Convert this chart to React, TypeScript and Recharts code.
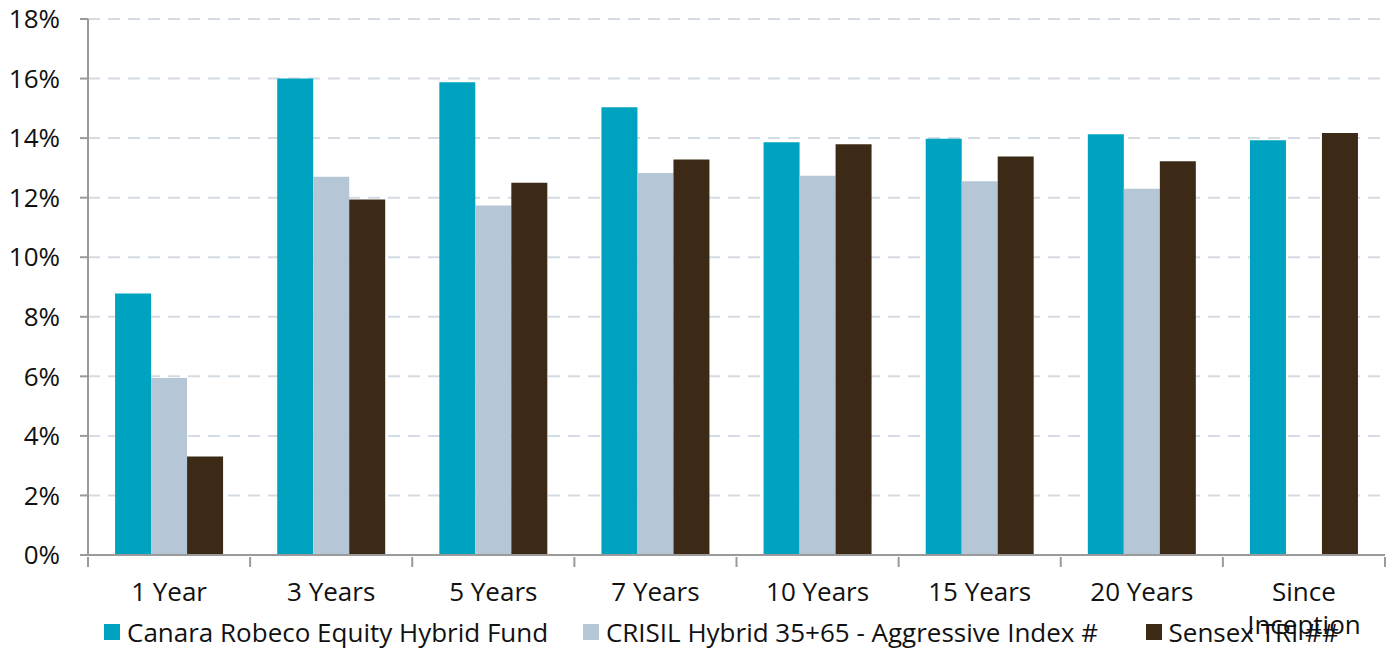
import React from 'react';
import { BarChart, Bar, XAxis, YAxis, CartesianGrid, Legend } from 'recharts';

const categories = ['1 Year', '3 Years', '5 Years', '7 Years', '10 Years', '15 Years', '20 Years', 'Since Inception'];
const fundReturns = [8.78, 16.0, 15.88, 15.04, 13.86, 13.98, 14.13, 13.93];
const crisilReturns: (number | null)[] = [5.94, 12.7, 11.74, 12.83, 12.74, 12.55, 12.3, null];
const sensexReturns = [3.31, 11.94, 12.5, 13.28, 13.79, 13.38, 13.22, 14.17];
const yTicks = [0, 2, 4, 6, 8, 10, 12, 14, 16, 18];

const seriesNames = {
    fund: 'Canara Robeco Equity Hybrid Fund',
    crisil: 'CRISIL Hybrid 35+65 - Aggressive Index #',
    sensex: 'Sensex TRI ##',
};

const colors = { fund: '#00A3BF', crisil: '#B5C7D6', sensex: '#3C2A17' };

const data = categories.map((name, i) => ({
    name,
    fund: fundReturns[i],
    crisil: crisilReturns[i],
    sensex: sensexReturns[i],
}));

const FONT = '"Open Sans", sans-serif';
const WIDTH = 1391;
const HEIGHT = 651;
const Y_AXIS_W = 88;
const RIGHT = 6;
const HALF_BAND = (WIDTH - Y_AXIS_W - RIGHT) / categories.length / 2;

const CategoryTick = (props: any) => {
    const { x, y, payload, index } = props;
    const words: string[] = payload.value === 'Since Inception' ? ['Since', 'Inception'] : [payload.value];
    const last = index === categories.length - 1;
    return (
        <g>
            <line x1={x - HALF_BAND} x2={x - HALF_BAND} y1={y} y2={y + 10} stroke="#9a9a9a" strokeWidth={2} />
            {last && <line x1={x + HALF_BAND} x2={x + HALF_BAND} y1={y} y2={y + 10} stroke="#9a9a9a" strokeWidth={2} />}
            <text x={x} y={y + 44} textAnchor="middle" fill="#111" fontSize={26} fontFamily={FONT}>
                {words.map((w, i) => (
                    <tspan key={w} x={x} dy={i === 0 ? 0 : 33}>{w}</tspan>
                ))}
            </text>
        </g>
    );
};

// legend item widths taken from the reference's spacing
const legendItems = [
    { key: 'fund', label: seriesNames.fund, color: colors.fund, width: 480 },
    { key: 'crisil', label: seriesNames.crisil, color: colors.crisil, width: 564 },
    { key: 'sensex', label: seriesNames.sensex, color: colors.sensex, width: 240 },
];

const LegendContent = () => (
    <div style={{ display: 'flex', alignItems: 'center', paddingLeft: 104, fontFamily: FONT, fontSize: 26, color: '#111', height: 39, whiteSpace: 'nowrap' }}>
        {legendItems.map((it) => (
            <div key={it.key} style={{ display: 'flex', alignItems: 'center', width: it.width }}>
                <span style={{ display: 'inline-block', width: 16, height: 16, background: it.color, marginRight: 7, flexShrink: 0 }} />
                <span>{it.label}</span>
            </div>
        ))}
    </div>
);

const App: React.FC = () => {
    return (
        <div style={{ position: 'absolute', left: 0, top: 0, width: WIDTH, height: HEIGHT, background: '#fff' }}>
            <BarChart
                width={WIDTH}
                height={HEIGHT}
                data={data}
                margin={{ top: 19, right: RIGHT, left: 0, bottom: 0 }}
                barCategoryGap="16.7%"
                barGap={0}
            >
                <CartesianGrid vertical={false} stroke="#D3DCE4" strokeWidth={2} strokeDasharray="12 8" />
                <XAxis
                    dataKey="name"
                    interval={0}
                    height={57}
                    tick={<CategoryTick />}
                    tickLine={false}
                    tickSize={0}
                    axisLine={{ stroke: '#9a9a9a', strokeWidth: 2 }}
                />
                <YAxis
                    width={Y_AXIS_W}
                    domain={[0, 18]}
                    ticks={yTicks}
                    interval={0}
                    tickFormatter={(v) => `${v}%`}
                    tick={{ fill: '#111', fontSize: 26, fontFamily: FONT }}
                    tickSize={8}
                    tickMargin={20}
                    tickLine={{ stroke: '#9a9a9a', strokeWidth: 2 }}
                    axisLine={{ stroke: '#9a9a9a', strokeWidth: 2 }}
                />
                <Legend verticalAlign="bottom" height={39} content={<LegendContent />} />
                <Bar dataKey="fund" name={seriesNames.fund} fill={colors.fund} isAnimationActive={false} />
                <Bar dataKey="crisil" name={seriesNames.crisil} fill={colors.crisil} isAnimationActive={false} />
                <Bar dataKey="sensex" name={seriesNames.sensex} fill={colors.sensex} isAnimationActive={false} />
            </BarChart>
        </div>
    );
};

export default App;
